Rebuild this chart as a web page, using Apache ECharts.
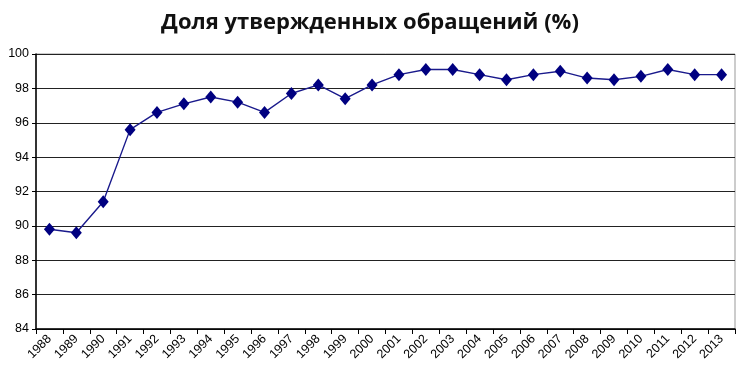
<!DOCTYPE html>
<html><head><meta charset="utf-8">
<script src="https://cdn.jsdelivr.net/npm/echarts@6/dist/echarts.min.js"></script>
<style>html,body{margin:0;padding:0;background:#fff}#c{width:740px;height:372px}</style>
</head><body><div id="c"></div>
<script>
const titleText = 'Доля утвержденных обращений (%)';
const years = ['1988','1989','1990','1991','1992','1993','1994','1995','1996','1997','1998','1999','2000','2001','2002','2003','2004','2005','2006','2007','2008','2009','2010','2011','2012','2013'];
const share = [89.8,89.6,91.4,95.6,96.6,97.1,97.5,97.2,96.6,97.7,98.2,97.4,98.2,98.8,99.1,99.1,98.8,98.5,98.8,99.0,98.6,98.5,98.7,99.1,98.8,98.8];
const yMin = 84, yMax = 100, yStep = 2;

const chart = echarts.init(document.getElementById('c'), null, {renderer:'canvas'});
chart.setOption({
  animation:false,
  backgroundColor:'#fff',
  title:{text:titleText, left:'center', top:7,
    textStyle:{fontFamily:'Open Sans', fontWeight:'bold', fontSize:22, color:'#111'}},
  grid:{left:36, right:5, top:54, bottom:43, show:true, borderColor:'#999', borderWidth:1},
  xAxis:{type:'category', data:years, boundaryGap:true,
    axisLine:{lineStyle:{color:'#000', width:1.5}},
    axisTick:{show:true, length:5, lineStyle:{color:'#000'}},
    axisLabel:{rotate:45, interval:0, fontFamily:'Liberation Sans', fontSize:12.5, color:'#000', margin:8}},
  yAxis:{type:'value', min:yMin, max:yMax, interval:yStep,
    axisLine:{show:true, lineStyle:{color:'#000', width:1.5}},
    axisTick:{show:true, length:4, lineStyle:{color:'#000'}},
    axisLabel:{fontFamily:'Liberation Sans', fontSize:12.5, color:'#000', margin:7},
    splitLine:{show:true, lineStyle:{color:'#222', width:1.2}}},
  series:[{type:'line', data:share, symbol:'diamond', symbolSize:[11,13],
    itemStyle:{color:'#000080'}, lineStyle:{color:'#1a1a8c', width:1.4}}]
});
</script></body></html>
